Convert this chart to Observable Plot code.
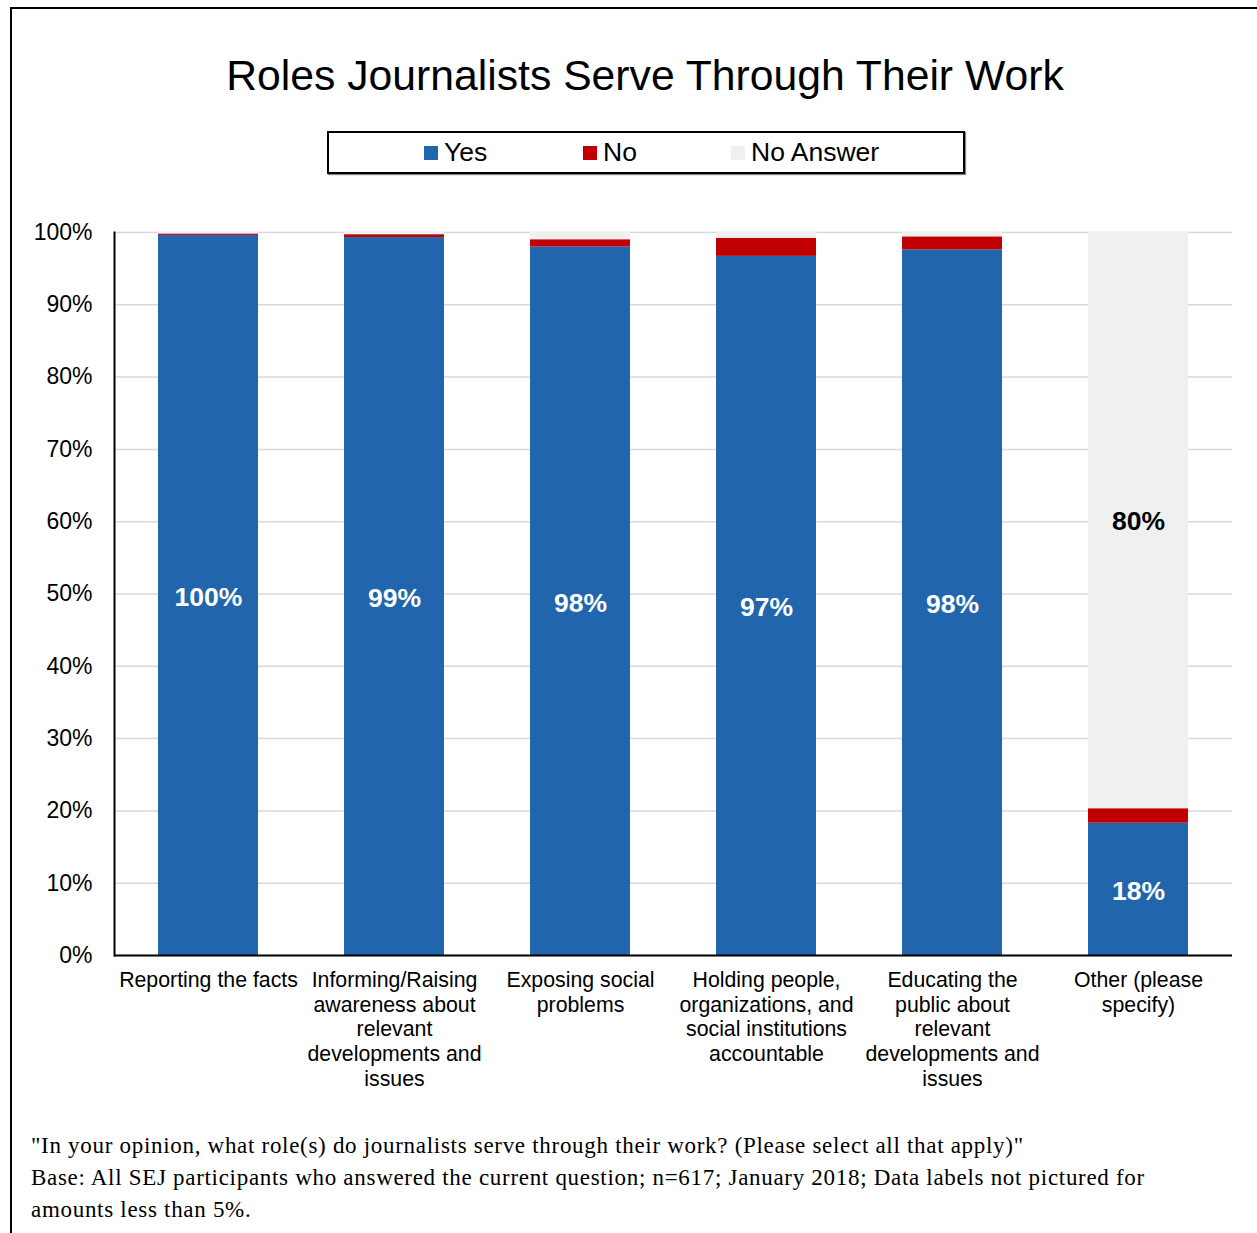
<!DOCTYPE html>
<html>
<head>
<meta charset="utf-8">
<script src="https://cdn.jsdelivr.net/npm/d3@7"></script>
<script src="https://cdn.jsdelivr.net/npm/@observablehq/plot@0.6"></script>
<style>
  html, body { margin: 0; padding: 0; background: #fff; }
  body { width: 1257px; height: 1233px; position: relative; overflow: hidden; font-family: "Liberation Sans", Arial, sans-serif; }
  #frame { position: absolute; left: 10px; top: 7px; width: 1400px; height: 1400px; border-left: 2px solid #000; border-top: 2px solid #000; }
  #title { position: absolute; left: 645px; top: 50px; transform: translateX(-50%); white-space: nowrap; font-size: 42.7px; line-height: 50px; color: #000; }
  #legend { position: absolute; left: 327px; top: 131px; width: 634px; height: 39px; border: 2px solid #000; box-shadow: 1px 1px 1px #888; }
  .item { position: absolute; top: 0; height: 39px; display: flex; align-items: center; font-size: 26.5px; color: #000; }
  .sw { width: 14px; height: 14px; margin-right: 6px; }
  #chart { position: absolute; left: 0; top: 200px; }
  #foot { position: absolute; left: 31px; top: 1130px; font-family: "Liberation Serif", "Times New Roman", serif; font-size: 23px; letter-spacing: 0.7px; line-height: 32px; color: #000; white-space: nowrap; }
</style>
</head>
<body>
<div id="frame"></div>
<div id="title"></div>
<div id="legend"></div>
<div id="chart"></div>
<div id="foot"></div>
<script>
const title = "Roles Journalists Serve Through Their Work";
const categories = [
  "Reporting the facts",
  "Informing/Raising awareness about relevant developments and issues",
  "Exposing social problems",
  "Holding people, organizations, and social institutions accountable",
  "Educating the public about relevant developments and issues",
  "Other (please specify)"
];
const tickLabels = [
  "Reporting the facts",
  "Informing/Raising\nawareness about\nrelevant\ndevelopments and\nissues",
  "Exposing social\nproblems",
  "Holding people,\norganizations, and\nsocial institutions\naccountable",
  "Educating the\npublic about\nrelevant\ndevelopments and\nissues",
  "Other (please\nspecify)"
];
const series = ["Yes", "No", "No Answer"];
const colors = ["#2166AC", "#C00000", "#F0F0F0"];
const yesValues = [99.6, 99.3, 98.0, 96.7, 97.6, 18.3];
const noValues = [0.2, 0.4, 1.0, 2.5, 1.8, 2.0];
const naValues = [0.2, 0.3, 1.0, 0.8, 0.6, 79.7];
const yTicks = [0, 10, 20, 30, 40, 50, 60, 70, 80, 90, 100];
const footLines = [
  "\"In your opinion, what role(s) do journalists serve through their work? (Please select all that apply)\"",
  "Base: All SEJ participants who answered the current question; n=617; January 2018; Data labels not pictured for",
  "amounts less than 5%."
];

document.getElementById("title").textContent = title;
const legend = document.getElementById("legend");
const legendLeft = [95, 254, 402];
series.forEach((s, i) => {
  const it = document.createElement("div");
  it.className = "item";
  it.style.left = legendLeft[i] + "px";
  const sw = document.createElement("div");
  sw.className = "sw";
  sw.style.background = colors[i];
  it.appendChild(sw);
  it.appendChild(document.createTextNode(s));
  legend.appendChild(it);
});
const foot = document.getElementById("foot");
footLines.forEach(l => { const d = document.createElement("div"); d.textContent = l; foot.appendChild(d); });

const seriesValues = [yesValues, noValues, naValues];
const data = [];
categories.forEach((c, i) => {
  series.forEach((s, j) => data.push({category: c, series: s, value: seriesValues[j][i]}));
});
const label = d => d.value >= 5 ? Math.round(d.value) + "%" : "";

const chart = Plot.plot({
  width: 1257,
  height: 900,
  marginLeft: 114,
  marginRight: 25,
  marginTop: 32,
  marginBottom: 145,
  style: {fontFamily: "'Liberation Sans', Arial, sans-serif", color: "#000", background: "transparent"},
  x: {domain: categories, paddingInner: 0.46, paddingOuter: 0.23, label: null},
  y: {domain: [0, 100], label: null},
  color: {domain: series, range: colors},
  marks: [
    Plot.gridY(yTicks, {stroke: "#d9d9d9", strokeOpacity: 1, strokeWidth: 1.5}),
    Plot.barY(data, {x: "category", y: "value", fill: "series", z: "series"}),
    Plot.text(data, Plot.stackY({x: "category", y: "value", z: "series",
      text: d => d.series === "Yes" ? label(d) : "", fill: "white", fontWeight: "bold", fontSize: 26.5, dy: 2})),
    Plot.text(data, Plot.stackY({x: "category", y: "value", z: "series",
      text: d => d.series === "No Answer" ? label(d) : "", fill: "black", fontWeight: "bold", fontSize: 26.5, dy: 1})),
    Plot.ruleY([0], {stroke: "#000", strokeWidth: 2}),
    Plot.frame({anchor: "left", stroke: "#000", strokeWidth: 2}),
    Plot.axisY({ticks: yTicks, tickSize: 0, tickPadding: 22, fontSize: 23, tickFormat: d => d + "%", label: null}),
    Plot.axisX({tickSize: 0, tickPadding: 14, fontSize: 21.3, lineHeight: 1.16, label: null,
      tickFormat: d => tickLabels[categories.indexOf(d)]})
  ]
});
document.getElementById("chart").appendChild(chart);
</script>
</body>
</html>
